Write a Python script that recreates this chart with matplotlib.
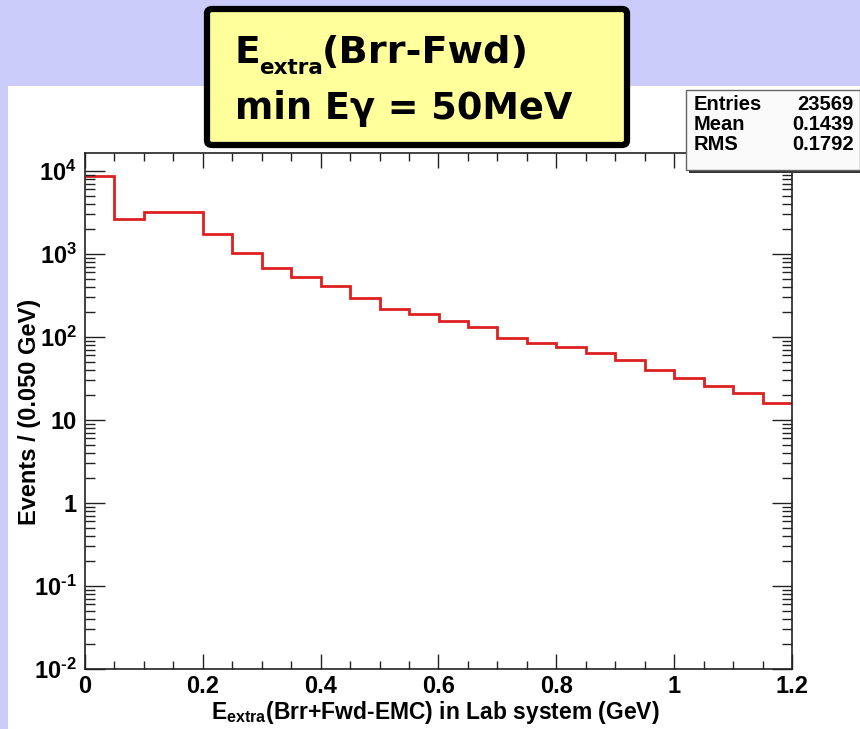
import numpy as np
import matplotlib
matplotlib.use("Agg")
import matplotlib.pyplot as plt
from matplotlib.patches import Rectangle, FancyBboxPatch
from matplotlib.ticker import FixedLocator, FixedFormatter, LogLocator, NullFormatter

plt.rcParams['font.family'] = ['Liberation Sans', 'DejaVu Sans']
plt.rcParams['mathtext.fontset'] = 'custom'
plt.rcParams['mathtext.rm'] = 'Liberation Sans:bold'
plt.rcParams['mathtext.it'] = 'Liberation Sans:bold'
plt.rcParams['mathtext.bf'] = 'Liberation Sans:bold'

# histogram contents, 0.050 GeV bins from 0 to 1.2 GeV
bin_width = 0.05
counts = [8790, 2630, 3220, 3250, 1740, 1016, 679, 530, 408, 299, 217, 187,
          154, 132, 96, 85, 75, 64, 53, 40, 32, 26, 21, 16]
edges = np.arange(len(counts) + 1) * bin_width

xticks = [0, 0.2, 0.4, 0.6, 0.8, 1, 1.2]
xticklabels = ['0', '0.2', '0.4', '0.6', '0.8', '1', '1.2']
yticks = [1e-2, 1e-1, 1, 10, 1e2, 1e3, 1e4]
yticklabels = [r'$10^{\text{-}2}$', r'$10^{\text{-}1}$', '1', '10',
               r'$10^{2}$', r'$10^{3}$', r'$10^{4}$']

stat_names = ['Entries', 'Mean', 'RMS']
stat_vals = ['23569', '0.1439', '0.1792']

W, H = 860, 729
fig = plt.figure(figsize=(8.6, 7.29), dpi=100)
fig.patch.set_facecolor('#ccccfb')

def fx(px):
    return px / W

def fy(py):
    return 1 - py / H

# white canvas
fig.add_artist(Rectangle((fx(8), 0), 852 / W, (H - 86) / H, transform=fig.transFigure,
                         facecolor='white', edgecolor='none', zorder=0))

ax = fig.add_axes([fx(85), 60 / H, 707 / W, (669 - 153) / H])
ax.set_facecolor('white')
ax.stairs(counts, edges, color='#dd2020', lw=2.0, baseline=None)
ax.set_yscale('log')
ax.set_xlim(0, 1.2)
ax.set_ylim(1e-2, 10 ** 4.217)

ax.xaxis.set_major_locator(FixedLocator(xticks))
ax.xaxis.set_major_formatter(FixedFormatter(xticklabels))
ax.xaxis.set_minor_locator(FixedLocator(edges))
ax.yaxis.set_major_locator(FixedLocator(yticks))
ax.yaxis.set_major_formatter(FixedFormatter(yticklabels))
ax.yaxis.set_minor_locator(LogLocator(base=10, subs=np.arange(2, 10), numticks=20))
ax.yaxis.set_minor_formatter(NullFormatter())

ax.tick_params(axis='both', which='both', direction='in', top=True, right=True, colors='#222222',
               labelcolor='black')
ax.tick_params(axis='x', which='major', length=11, width=1.0, labelsize=17, pad=4)
ax.tick_params(axis='x', which='minor', length=6, width=1.0)
ax.tick_params(axis='y', which='major', length=14.5, width=1.0, labelsize=17, pad=6)
ax.tick_params(axis='y', which='minor', length=7, width=1.0)
for lab in ax.get_xticklabels() + ax.get_yticklabels():
    lab.set_fontweight('bold')
for sp in ax.spines.values():
    sp.set_linewidth(1.2)
    sp.set_color('#222222')

fig.text(fx(435), fy(719), r'E$_{extra}$(Brr+Fwd-EMC) in Lab system (GeV)',
         ha='center', va='baseline', fontsize=16.5, fontweight='bold')
fig.text(fx(30), fy(412), 'Events / (0.050 GeV)', rotation=90,
         ha='center', va='center', fontsize=17, fontweight='bold')

# title box
fig.add_artist(FancyBboxPatch((fx(207), fy(145)), 420 / W, 136 / H,
                              boxstyle='round,pad=0,rounding_size=0.006',
                              transform=fig.transFigure, facecolor='#ffff9c',
                              edgecolor='black', lw=4.5, zorder=5))
tkw = dict(fontweight='bold', family='DejaVu Sans', va='baseline', ha='left', zorder=6)
fig.text(fx(235), fy(63), 'E', fontsize=27, **tkw)
fig.text(fx(259), fy(74), 'extra', fontsize=15.5, **tkw)
fig.text(fx(322), fy(63), '(Brr-Fwd)', fontsize=27.5, **tkw)
fig.text(fx(235), fy(119), 'min Eγ = 50MeV', fontsize=26.5, **tkw)

# stats box with shadow
fig.add_artist(Rectangle((fx(689), fy(173)), 174 / W, 82 / H, transform=fig.transFigure,
                         facecolor='#333333', edgecolor='none', zorder=5))
fig.add_artist(Rectangle((fx(686), fy(170)), 174 / W, 80 / H, transform=fig.transFigure,
                         facecolor='#fafafa', edgecolor='#666666', lw=1.0, zorder=6))
for i, (n, v) in enumerate(zip(stat_names, stat_vals)):
    y = fy(104 + i * 20.5)
    fig.text(fx(694), y, n, fontsize=14.5, fontweight='bold', va='center', ha='left', zorder=7)
    fig.text(fx(854), y, v, fontsize=14.5, fontweight='bold', va='center', ha='right', zorder=7)

fig.savefig('out.png', dpi=100, facecolor=fig.get_facecolor())
